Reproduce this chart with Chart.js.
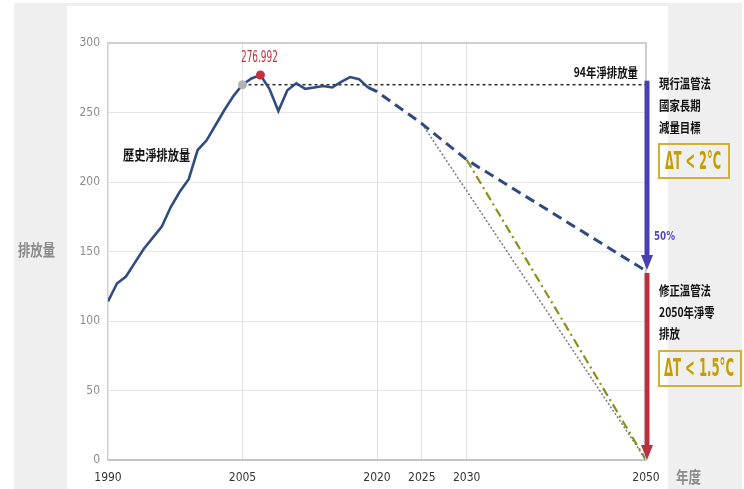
<!DOCTYPE html>
<html>
<head>
<meta charset="utf-8">
<script src="https://cdn.jsdelivr.net/npm/chart.js@4"></script>
<style>
  html, body { margin: 0; padding: 0; background: #fff; }
  #wrap { position: relative; width: 744px; height: 489px; overflow: hidden; }
  .frame { position: absolute; left: 14px; top: 3px; width: 728px; height: 486px; background: #efefef; }
  .panel { position: absolute; left: 67px; top: 6px; width: 601px; height: 483px; background: #fff; }
  canvas { position: absolute; left: 0; top: 0; }
</style>
</head>
<body>
<div id="wrap">
  <div class="frame"></div>
  <div class="panel"></div>
  <canvas id="c" width="744" height="489"></canvas>
</div>
<script>
// Historical net emissions (Mt CO2e)
const histYears = [1990, 1991, 1992, 1993, 1994, 1995, 1996, 1997, 1998, 1999,
                   2000, 2001, 2002, 2003, 2004, 2005, 2006, 2007, 2008, 2009,
                   2010, 2011, 2012, 2013, 2014, 2015, 2016, 2017, 2018, 2019];
const histNet   = [114, 127, 132, 142, 152, 160, 168, 182, 193, 202,
                   223, 230, 241, 252, 262, 270, 274.5, 276.992, 267, 251,
                   266, 271, 267, 268, 269, 268, 272, 275.5, 274, 268];

// Long-term reduction path under the current act (50% of 2005 by 2050)
const planYears = [2019, 2020, 2025, 2030, 2050];
const planNet   = [268, 265, 242, 216, 136];

// Net-zero paths
const fastYears    = [2025, 2050];
const fastNet      = [242, 0];
const netZeroYears = [2030, 2050];
const netZeroNet   = [216, 0];

const baseYear = 2005;   // 94年
const peakYear = 2007;
const endYear  = 2050;

const xTickYears = [1990, 2005, 2020, 2025, 2030, 2050];
const yTicks     = [0, 50, 100, 150, 200, 250, 300];

const pts = (xs, ys) => xs.map((x, i) => ({ x, y: ys[i] }));
const baseValue = histNet[histYears.indexOf(baseYear)];
const peakValue = histNet[histYears.indexOf(peakYear)];
const planEnd   = planNet[planNet.length - 1];

const NARROW = "'Liberation Sans Narrow', 'DejaVu Sans Condensed', 'Liberation Sans', sans-serif";
const CJK    = "'Noto Sans CJK TC', 'Noto Sans CJK SC', sans-serif";
const CLEAR  = 'rgba(0,0,0,0)';

function txt(ctx, s, x, y, o) {
  const size = o.size || 13, weight = o.weight || 'bold', family = o.family || CJK;
  ctx.save();
  ctx.font = `${weight} ${size}px ${family}`;
  const w = ctx.measureText(s).width;
  const k = o.width ? o.width / w : (o.sx || 0.8);
  ctx.translate(x, y);
  ctx.scale(k, 1);
  ctx.textBaseline = 'middle';
  ctx.textAlign = o.align || 'left';
  ctx.fillStyle = o.color || '#111';
  ctx.fillText(s, 0, 0);
  ctx.restore();
}

function arrow(ctx, x, y0, y1, color) {
  const shaft = 5, head = 12, headLen = 15;
  ctx.save();
  ctx.fillStyle = color;
  ctx.fillRect(x - shaft / 2, y0, shaft, y1 - y0 - headLen + 1);
  ctx.beginPath();
  ctx.moveTo(x - head / 2, y1 - headLen);
  ctx.lineTo(x + head / 2, y1 - headLen);
  ctx.lineTo(x, y1);
  ctx.closePath();
  ctx.fill();
  ctx.restore();
}

const annotations = {
  id: 'annotations',
  afterDatasetsDraw(chart) {
    const { ctx, chartArea: a, scales: { x: xs, y: ys } } = chart;

    // frame on top and right of the plot
    ctx.save();
    ctx.strokeStyle = '#cfcfcf';
    ctx.lineWidth = 2;
    ctx.beginPath();
    ctx.moveTo(a.left, a.top);
    ctx.lineTo(a.right, a.top);
    ctx.lineTo(a.right, a.bottom);
    ctx.stroke();
    ctx.restore();

    // reduction arrows at 2050
    const ax = xs.getPixelForValue(endYear) + 1;
    arrow(ctx, ax, ys.getPixelForValue(baseValue) - 4, ys.getPixelForValue(planEnd) - 1, '#4a3fb0');
    arrow(ctx, ax, ys.getPixelForValue(planEnd) + 2, ys.getPixelForValue(0), '#b7323f');

    // peak value label
    txt(ctx, peakValue.toFixed(3), xs.getPixelForValue(peakYear) - 1, ys.getPixelForValue(peakValue) - 17,
        { size: 15, weight: 'normal', family: NARROW, color: '#c0303a', align: 'center', width: 37 });

    txt(ctx, '歷史淨排放量', 123, 155, { size: 14 });
    txt(ctx, '94年淨排放量', 638, 72, { size: 13, align: 'right' });

    txt(ctx, '現行溫管法', 659, 83, { size: 13 });
    txt(ctx, '國家長期', 659, 105, { size: 13 });
    txt(ctx, '減量目標', 659, 127, { size: 13 });

    txt(ctx, '50%', 654, 237, { size: 13, family: NARROW, color: '#5548bf', width: 21 });

    txt(ctx, '修正溫管法', 659, 290, { size: 13 });
    txt(ctx, '2050年淨零', 659, 312, { size: 13 });
    txt(ctx, '排放', 659, 333, { size: 13 });

    ctx.save();
    ctx.strokeStyle = '#d3b136';
    ctx.lineWidth = 2;
    ctx.strokeRect(659, 144, 70, 34);
    ctx.strokeRect(659, 351, 82, 35);
    ctx.restore();
    txt(ctx, 'ΔT < 2°C', 693, 162, { size: 25, family: NARROW, color: '#c69d00', align: 'center', width: 56 });
    txt(ctx, 'ΔT < 1.5°C', 699, 369, { size: 25, family: NARROW, color: '#c69d00', align: 'center', width: 70 });

    txt(ctx, '排放量', 18, 250, { size: 16, color: '#8a8a8a', width: 37 });
    txt(ctx, '年度', 676, 477, { size: 16, color: '#8a8a8a', width: 25 });
  }
};

new Chart(document.getElementById('c'), {
  type: 'line',
  data: {
    datasets: [
      { data: [{ x: baseYear, y: baseValue }], pointRadius: 4.5, pointBackgroundColor: '#b3b3b3',
        pointBorderWidth: 0, showLine: false, order: 0 },
      { data: [{ x: peakYear, y: peakValue }], pointRadius: 4.5, pointBackgroundColor: '#c5303c',
        pointBorderWidth: 0, showLine: false, order: 0 },
      { data: pts(histYears, histNet), borderColor: '#2f4d80', borderWidth: 2.6, pointRadius: 0, order: 1 },
      { data: pts(planYears, planNet), borderColor: '#2f4a7c', borderWidth: 3, borderDash: [10, 6],
        pointRadius: 0, order: 2 },
      { data: pts([baseYear, endYear], [baseValue, baseValue]), borderColor: '#333', borderWidth: 1.6,
        borderDash: [3, 3], pointRadius: 0, order: 3 },
      { data: pts(fastYears, fastNet), borderColor: '#7a7a7a', borderWidth: 1.5, borderDash: [2, 2],
        pointRadius: 0, order: 4 },
      { data: pts(netZeroYears, netZeroNet), borderColor: '#8f8f17', borderWidth: 2.2,
        borderDash: [9, 4, 2, 4], pointRadius: 0, order: 5 }
    ]
  },
  options: {
    responsive: false,
    animation: false,
    layout: { padding: { top: 43, right: 98, left: 0, bottom: 0 } },
    plugins: { legend: { display: false }, tooltip: { enabled: false } },
    scales: {
      x: {
        type: 'linear', min: 1990, max: 2050,
        afterBuildTicks: s => { s.ticks = xTickYears.map(v => ({ value: v })); },
        afterFit: s => { s.height = 29; },
        ticks: { color: '#333', font: { family: NARROW, size: 12 }, padding: 11, maxRotation: 0,
                 autoSkip: false, callback: v => String(v) },
        grid: { color: c => (c.tick && (c.tick.value === 1990 || c.tick.value === 2050)) ? CLEAR : '#e2e2e2',
                lineWidth: 1, drawTicks: false },
        border: { color: '#c4c4c4', width: 2 }
      },
      y: {
        min: 0, max: 300,
        afterBuildTicks: s => { s.ticks = yTicks.map(v => ({ value: v })); },
        afterFit: s => { s.width = 108; },
        ticks: { color: '#8c8c8c', font: { family: NARROW, size: 12 }, padding: 8, callback: v => String(v) },
        grid: { color: c => (c.tick && (c.tick.value === 0 || c.tick.value === 300)) ? CLEAR : '#e6e6e6',
                lineWidth: 1, drawTicks: false },
        border: { color: '#d0d0d0', width: 1.5 }
      }
    }
  },
  plugins: [annotations]
});
</script>
</body>
</html>
